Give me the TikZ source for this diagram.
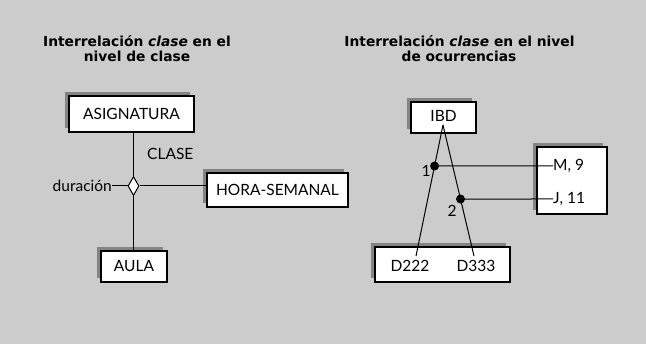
\documentclass[tikz,border=0pt]{standalone}
\usepackage{fontspec}
\setmainfont{Lato}
\newfontfamily\ttlfont{DejaVu Sans}
\usetikzlibrary{shapes.geometric,shadows,calc}
\definecolor{bg}{RGB}{204,204,204}
\definecolor{shd}{RGB}{132,132,132}
\begin{document}
\begin{tikzpicture}[x=1pt,y=-1pt,
  ent/.style={draw=black,line width=1.1pt,fill=white,inner sep=0pt,
    general shadow={fill=shd,shadow xshift=-4pt,shadow yshift=4pt},
    font=\fontsize{15.5}{17}\selectfont},
  lbl/.style={inner sep=0pt,font=\fontsize{15.5}{17}\selectfont},
  ttl/.style={anchor=base,inner sep=0pt,font=\ttlfont\fontsize{13.8}{15}\selectfont\bfseries},
  ln/.style={line width=1pt,draw=black},
  dot/.style={circle,fill=black,inner sep=0pt,minimum size=9pt}]
\fill[bg] (0,0) rectangle (646,344);
\useasboundingbox (0,0) rectangle (646,344);
% titles
\node[ttl] (t1a) at (137,46.7) {Interrelación \textit{clase} en el};
\node[ttl] (t1b) at (137,61.7) {nivel de clase};
\node[ttl] (t2a) at (459.5,46.7) {Interrelación \textit{clase} en el nivel};
\node[ttl] (t2b) at (459,61.7) {de ocurrencias};
% left diagram
\node[ent,minimum width=125pt,minimum height=36pt] (asig) at (131.5,114) {ASIGNATURA};
\node[ent,minimum width=141pt,minimum height=34pt] (hora) at (277.5,190) {HORA-SEMANAL};
\node[ent,minimum width=66pt,minimum height=31pt] (aula) at (134,266.5) {AULA};
\node[diamond,draw=black,line width=1pt,fill=white,inner sep=0pt,minimum width=11pt,minimum height=19pt] (rel) at (133.5,186) {};
\node[lbl,anchor=west] (clase) at (147,154) {CLASE};
\node[lbl,anchor=east] (dur) at (112,186) {duración};
\draw[ln] (asig.south -| rel) -- (rel.north);
\draw[ln] (rel.south) -- (rel.south |- aula.north);
\draw[ln] (rel.east) -- (rel.east -| hora.west);
\draw[ln] (dur.east) -- (rel.west);
% right diagram
\node[ent,minimum width=65pt,minimum height=31pt] (ibd) at (443.5,117.5) {};
\node[lbl] (ibdt) at (443.5,116) {IBD};
\node[ent,minimum width=70pt,minimum height=67pt] (hb) at (572,180.5) {};
\node[ent,minimum width=135pt,minimum height=35pt] (db) at (442.5,264.5) {};
\node[lbl] (d222) at (410,266) {D222};
\node[lbl] (d333) at (476,266) {D333};
\node[lbl,anchor=west] (m9) at (553,166) {M, 9};
\node[lbl,anchor=west] (j11) at (553,199) {J, 11};
\coordinate (apex) at (443,125);
\coordinate (e1) at (416,256);
\coordinate (e2) at (474,256);
\draw[ln] (apex) -- (e1);
\draw[ln] (apex) -- (e2);
\node[dot] (p1) at ($(apex)!0.313!(e1)$) {};
\node[dot] (p2) at ($(apex)!0.565!(e2)$) {};
\node[lbl] (n1) at (426,171) {1};
\node[lbl] (n2) at (452,211) {2};
\draw[ln] (p1.center) -- (m9.west);
\draw[ln] (p2.center) -- (j11.west);
\end{tikzpicture}
\end{document}
